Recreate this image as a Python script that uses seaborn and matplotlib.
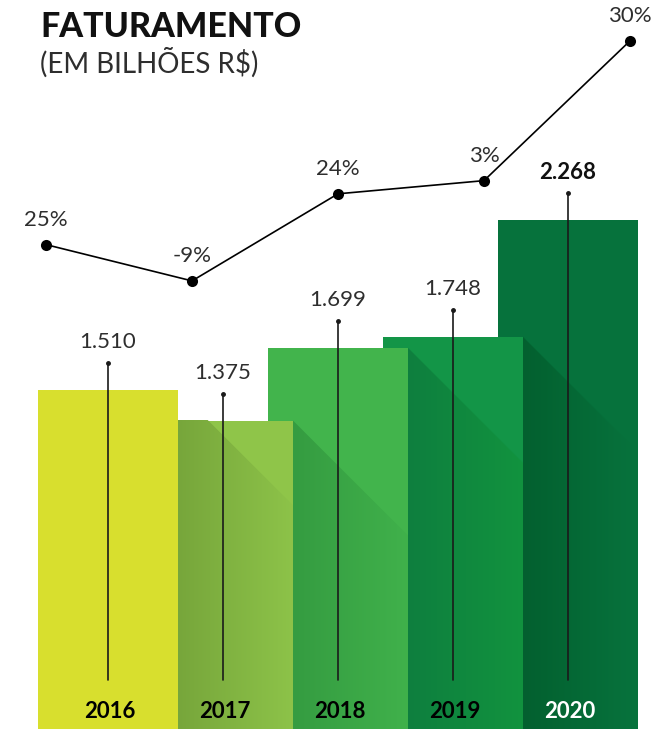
import numpy as np
import matplotlib
matplotlib.use("Agg")
import matplotlib.pyplot as plt
from matplotlib.colors import LinearSegmentedColormap
from matplotlib.patches import Polygon
import seaborn as sns

# Data
years = ["2016", "2017", "2018", "2019", "2020"]
revenue = [1510, 1375, 1699, 1748, 2268]
revenue_labels = ["1.510", "1.375", "1.699", "1.748", "2.268"]
growth_labels = ["25%", "-9%", "24%", "3%", "30%"]

# Styles
bar_colors = ["#d8df2e", "#8fc549", "#42b44c", "#139547", "#06723c"]
shade_left = ["#d8df2e", "#77a63b", "#359c41", "#0e7f3e", "#03602f"]
shade_right = ["#d8df2e", "#8dc349", "#40b14b", "#12933f", "#07733d"]
year_colors = ["black", "black", "black", "black", "white"]

sns.set_theme(style="white")
plt.rcParams["font.family"] = ["Lato", "DejaVu Sans"]

W, H = 655, 729
fig = plt.figure(figsize=(W / 100, H / 100), dpi=100)
ax = fig.add_axes([0, 0, 1, 1])

bar_w = 140 / 115
x_lo, x_hi = -108 / 115, (W - 108) / 115
y_hi = 3250
ax.set_xlim(x_lo, x_hi)
ax.set_ylim(0, y_hi)

sns.barplot(x=years, y=revenue, hue=years, palette=bar_colors, legend=False,
            width=bar_w, saturation=1, ax=ax)
ax.set_xlim(x_lo, x_hi)
ax.set_ylim(0, y_hi)
for i, p in enumerate(ax.patches):
    p.set_zorder(10 - 2 * i)
    p.set_edgecolor("none")
    p.set_linewidth(0)

# pixel scale -> slope of 45 degree shadow in data units
px_x = W / (x_hi - x_lo)
px_y = H / y_hi
k = px_x / px_y

# diagonal shadows cast by each bar onto the next one
for i in range(1, len(revenue)):
    xr = (i - 1) + bar_w / 2
    xR = i + bar_w / 2
    yt = revenue[i - 1]
    cmap = LinearSegmentedColormap.from_list("s", [shade_left[i], shade_right[i]])
    grad = np.linspace(0, 1, 256).reshape(1, -1)
    im = ax.imshow(grad, cmap=cmap, extent=[xr, xR, 0, revenue[i]],
                   aspect="auto", zorder=11 - 2 * i, interpolation="bilinear")
    clip = Polygon([(xr, 0), (xr, yt), (xR, yt - (xR - xr) * k), (xR, 0)],
                   closed=True, transform=ax.transData, facecolor="none")
    im.set_clip_path(clip)

ax.set_xlim(x_lo, x_hi)
ax.set_ylim(0, y_hi)

# value pointer lines, labels, years
gap = 27 / px_y
bottom = (H - 680) / px_y
for i, v in enumerate(revenue):
    ax.plot([i, i], [bottom, v + gap], color="#1a1a1a", lw=1.2, zorder=20)
    ax.plot([i], [v + gap], marker="o", markersize=2.5, color="#1a1a1a", zorder=20)
    ax.annotate(revenue_labels[i], xy=(i, v + gap), xytext=(0, 15),
                textcoords="offset points", ha="center", va="center",
                fontsize=16, color="#111111" if i == 4 else "#2e2e2e",
                fontweight="bold" if i == 4 else "normal", zorder=21)
    ax.text(i + 0.015, 17 / px_y, years[i], ha="center", va="center",
            fontsize=16, fontweight="bold", color=year_colors[i], zorder=21)
ax.axis("off")

# growth line on its own axes
ax2 = fig.add_axes([0, 0, 1, 1], facecolor="none")
ax2.set_xlim(-46 / 146, (W - 46) / 146)
ax2.set_ylim(-292, 2420)
xs = np.arange(len(revenue))
sns.lineplot(x=xs, y=revenue, ax=ax2, color="black", lw=1.2, marker="o",
             markersize=8, markeredgewidth=0)
for i, v in enumerate(revenue):
    ax2.annotate(growth_labels[i], xy=(i, v), xytext=(0, 18),
                 textcoords="offset points", ha="center", va="center",
                 fontsize=16, fontweight="normal", color="#2e2e2e")
ax2.axis("off")

fig.text(40 / W, 1 - 27 / H, "FATURAMENTO", ha="left", va="center",
         fontsize=24.5, fontweight="black", color="#111111")
fig.text(40 / W, 1 - 63 / H, "(EM BILHÕES R$)", ha="left", va="center",
         fontsize=20, fontweight="normal", color="#2e2e2e")

fig.savefig("out.png", dpi=100)
